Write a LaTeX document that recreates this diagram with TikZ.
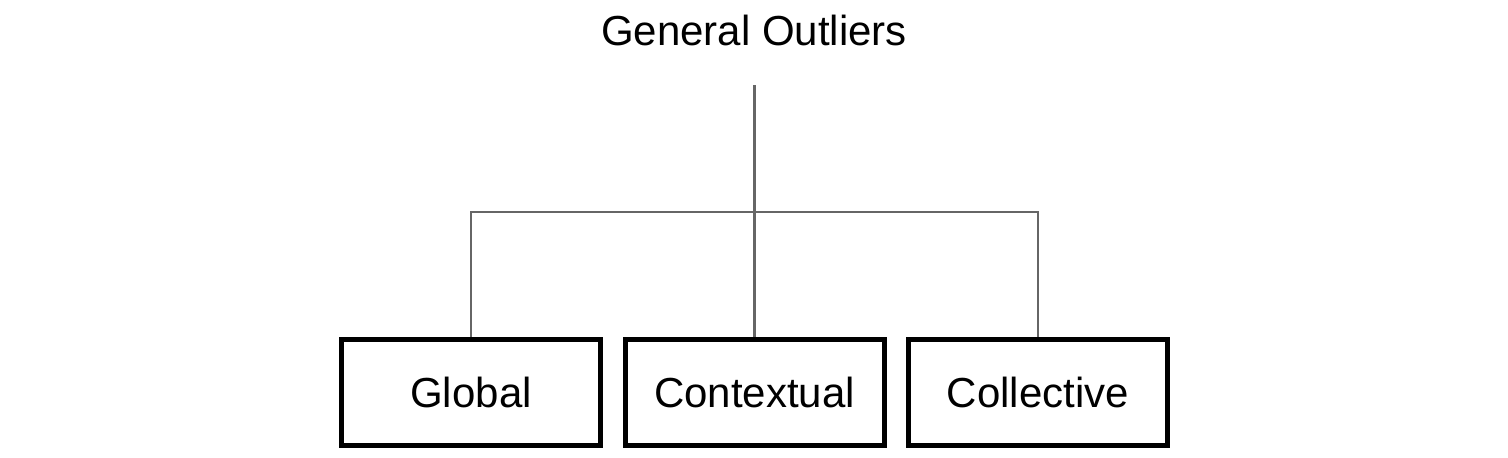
\documentclass[tikz,border=0pt]{standalone}
\usepackage{fontspec}
\setmainfont{Liberation Sans}
\begin{document}
\begin{tikzpicture}[x=1pt,y=-1pt,
  catbox/.style={draw=black,line width=5pt,minimum width=259pt,minimum height=106pt,inner sep=0pt,font=\fontsize{42}{50}\selectfont},
  link/.style={draw=black!60,line width=2.5pt}]
\useasboundingbox[fill=white] (0,0) rectangle (1508,458);
\node[anchor=base,inner sep=0pt,font=\fontsize{42}{50}\selectfont] (title) at (754,45) {General Outliers};
\coordinate (top) at (754.5,85);
\coordinate (bar) at (754.5,212);
\node[catbox] (glob) at (471,392.5) {Global};
\node[catbox] (ctx) at (754.5,392.5) {Contextual};
\node[catbox] (coll) at (1038,392.5) {Collective};
\draw[link] (top) -- (ctx.north);
\draw[link] (glob.north) |- (bar) -| (coll.north);
\end{tikzpicture}
\end{document}
